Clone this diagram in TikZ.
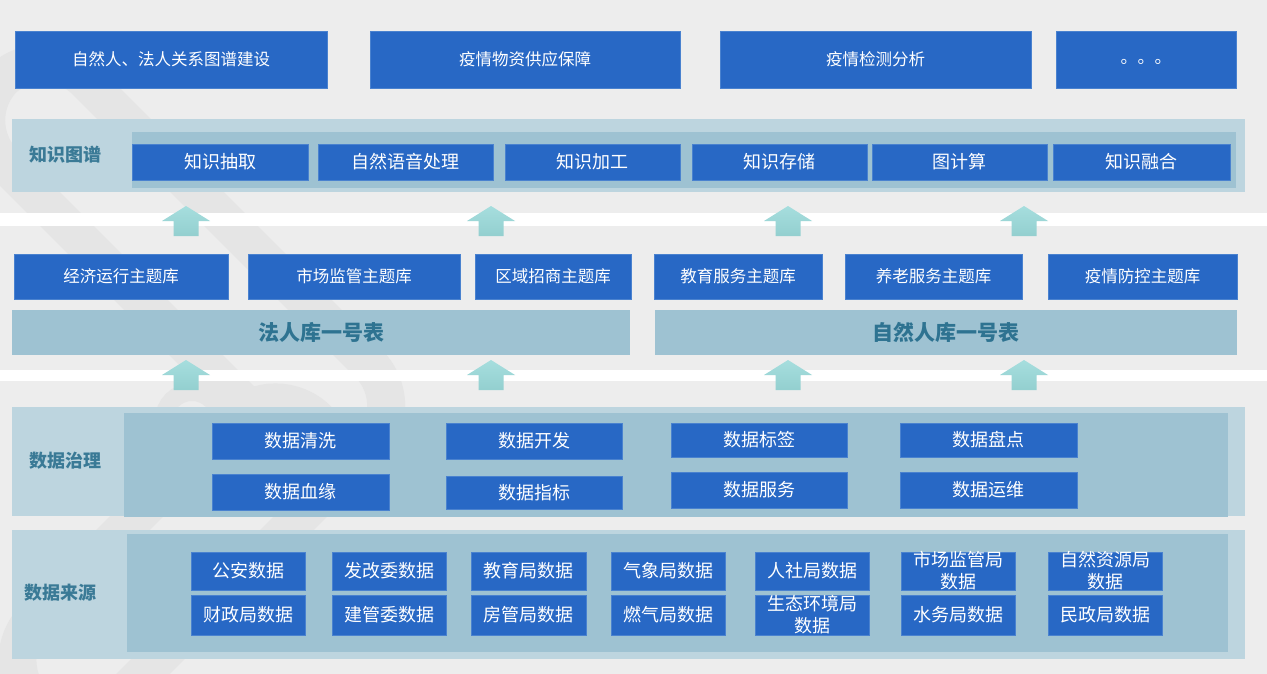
\documentclass[tikz,border=0pt]{standalone}
\usepackage{fontspec}
\setmainfont{Noto Sans CJK SC}
\definecolor{bgc}{HTML}{EDEDED}
\definecolor{decoc}{HTML}{E5E5E5}
\definecolor{boxc}{HTML}{2868C5}
\definecolor{boxedge}{HTML}{4A82CF}
\definecolor{outerc}{HTML}{BDD5DF}
\definecolor{innerc}{HTML}{9EC2D2}
\definecolor{labelc}{HTML}{3A7A96}
\definecolor{tablec}{HTML}{2E7391}
\definecolor{arrtop}{HTML}{A6DEDE}
\definecolor{arrbot}{HTML}{93CFCF}

% box from its corners: name, x1, y1, x2, y2, style, text
\newcommand\mkbox[7]{%
  \pgfmathsetmacro\bxw{#4-#2}\pgfmathsetmacro\bxh{#5-#3}%
  \node[#6, minimum width=\bxw pt, minimum height=\bxh pt] (#1)
    at ({(#2+#4)/2},{(#3+#5)/2}) {#7};}

\begin{document}
\begin{tikzpicture}[x=1pt,y=-1pt,
  bluebox/.style={fill=boxc, draw=boxedge, line width=0.7pt, text=white, inner sep=0pt},
  outerpanel/.style={fill=outerc, inner sep=0pt},
  innerpanel/.style={fill=innerc, inner sep=0pt},
  tablepanel/.style={fill=innerc, inner sep=0pt, text=tablec, font=\fontsize{21}{25}\selectfont\bfseries},
  layerlabel/.style={text=labelc, font=\fontsize{18}{22}\selectfont\bfseries, inner sep=0pt},
  ftop/.style={font=\fontsize{16.5}{20}\selectfont},
  fmid/.style={font=\fontsize{18}{22}\selectfont},
  ftopic/.style={font=\fontsize{16.5}{20}\selectfont},
  twoline/.style={text=white, align=center, inner sep=0pt, font=\fontsize{18}{22}\selectfont},
  deco/.style={draw=decoc, line width=38pt},
  uparr/.pic={\shade[top color=arrtop, bottom color=arrbot]
     (-12.5,30) -- (-12.5,15) -- (-24,15) -- (0,0) -- (24,15) -- (12.5,15) -- (12.5,30) -- cycle;}
]
% canvas
\useasboundingbox (0,0) rectangle (1267,674);
\fill[bgc] (0,0) rectangle (1267,674);

% faint chain-link watermark
\begin{scope}[shift={(165,242)}, rotate=-45]
  \draw[deco, rounded corners=60pt] (-230,-58) rectangle (290,58);
\end{scope}
\begin{scope}[shift={(175,560)}, rotate=45]
  \draw[deco, rounded corners=60pt] (-200,-58) rectangle (200,58);
\end{scope}
\draw[deco, line width=18pt] (192,420) circle (28);

% white separators between layers
\fill[white] (0,213) rectangle (1267,226);
\fill[white] (0,370) rectangle (1267,381);

% application row
\mkbox{t1}{15}{31}{327}{88}{bluebox,ftop}{自然人、法人关系图谱建设}
\mkbox{t2}{370}{31}{680}{88}{bluebox,ftop}{疫情物资供应保障}
\mkbox{t3}{720}{31}{1031}{88}{bluebox,ftop}{疫情检测分析}
\mkbox{t4}{1056}{31}{1236}{88}{bluebox,font=\fontsize{17}{20}\selectfont,text height=0.88em,text depth=0.12em}{。。。}

% knowledge graph layer
\mkbox{kgout}{12}{119}{1245}{192}{outerpanel}{}
\mkbox{kgin}{132}{132}{1236}{188}{innerpanel}{}
\node[layerlabel] (kglabel) at (65.5,155) {知识图谱};
\mkbox{k1}{132}{144}{308}{180}{bluebox,fmid}{知识抽取}
\mkbox{k2}{318}{144}{493}{180}{bluebox,fmid}{自然语音处理}
\mkbox{k3}{505}{144}{680}{180}{bluebox,fmid}{知识加工}
\mkbox{k4}{692}{144}{867}{180}{bluebox,fmid}{知识存储}
\mkbox{k5}{872}{144}{1047}{180}{bluebox,fmid}{图计算}
\mkbox{k6}{1053}{144}{1230}{180}{bluebox,fmid}{知识融合}

% arrows into the knowledge graph layer
\foreach \ax in {186,491,788,1024} {\pic at (\ax,206) {uparr};}

% topic libraries
\mkbox{p1}{14}{254}{228}{299}{bluebox,ftopic}{经济运行主题库}
\mkbox{p2}{248}{254}{460}{299}{bluebox,ftopic}{市场监管主题库}
\mkbox{p3}{475}{254}{631}{299}{bluebox,ftopic}{区域招商主题库}
\mkbox{p4}{654}{254}{822}{299}{bluebox,ftopic}{教育服务主题库}
\mkbox{p5}{845}{254}{1022}{299}{bluebox,ftopic}{养老服务主题库}
\mkbox{p6}{1048}{254}{1237}{299}{bluebox,ftopic}{疫情防控主题库}

% master tables
\mkbox{legal}{12}{310}{630}{355}{tablepanel}{法人库一号表}
\mkbox{natural}{655}{310}{1237}{355}{tablepanel}{自然人库一号表}

% arrows into the master tables
\foreach \ax in {186,491,788,1024} {\pic at (\ax,360) {uparr};}

% data governance layer
\mkbox{gvout}{12}{407}{1245}{516}{outerpanel}{}
\mkbox{gvin}{124}{413}{1228}{517}{innerpanel}{}
\node[layerlabel] (gvlabel) at (65.5,461) {数据治理};
\mkbox{g1}{212}{423}{389}{459}{bluebox,fmid}{数据清洗}
\mkbox{g2}{446}{423}{622}{459}{bluebox,fmid}{数据开发}
\mkbox{g3}{671}{423}{847}{457}{bluebox,fmid}{数据标签}
\mkbox{g4}{900}{423}{1077}{457}{bluebox,fmid}{数据盘点}
\mkbox{g5}{212}{474}{389}{510}{bluebox,fmid}{数据血缘}
\mkbox{g6}{446}{476}{622}{509}{bluebox,fmid}{数据指标}
\mkbox{g7}{671}{472}{847}{508}{bluebox,fmid}{数据服务}
\mkbox{g8}{900}{472}{1077}{508}{bluebox,fmid}{数据运维}

% data source layer
\mkbox{srout}{12}{530}{1245}{659}{outerpanel}{}
\mkbox{srin}{127}{534}{1228}{652}{innerpanel}{}
\node[layerlabel] (srlabel) at (60,593) {数据来源};
\mkbox{s1}{191}{552}{305}{590}{bluebox,fmid}{公安数据}
\mkbox{s2}{332}{552}{446}{590}{bluebox,fmid}{发改委数据}
\mkbox{s3}{471}{552}{586}{590}{bluebox,fmid}{教育局数据}
\mkbox{s4}{611}{552}{725}{590}{bluebox,fmid}{气象局数据}
\mkbox{s5}{755}{552}{869}{590}{bluebox,fmid}{人社局数据}
\mkbox{s6}{901}{552}{1015}{590}{bluebox}{}
\mkbox{s7}{1048}{552}{1162}{590}{bluebox}{}
\mkbox{s8}{191}{595}{305}{635}{bluebox,fmid}{财政局数据}
\mkbox{s9}{332}{595}{446}{635}{bluebox,fmid}{建管委数据}
\mkbox{s10}{471}{595}{586}{635}{bluebox,fmid}{房管局数据}
\mkbox{s11}{611}{595}{725}{635}{bluebox,fmid}{燃气局数据}
\mkbox{s12}{755}{595}{869}{635}{bluebox}{}
\mkbox{s13}{901}{595}{1015}{635}{bluebox,fmid}{水务局数据}
\mkbox{s14}{1048}{595}{1162}{635}{bluebox,fmid}{民政局数据}
\node[twoline] (s6t) at (s6) {市场监管局\\数据};
\node[twoline] (s7t) at (s7) {自然资源局\\数据};
\node[twoline] (s12t) at (s12) {生态环境局\\数据};
\end{tikzpicture}
\end{document}
